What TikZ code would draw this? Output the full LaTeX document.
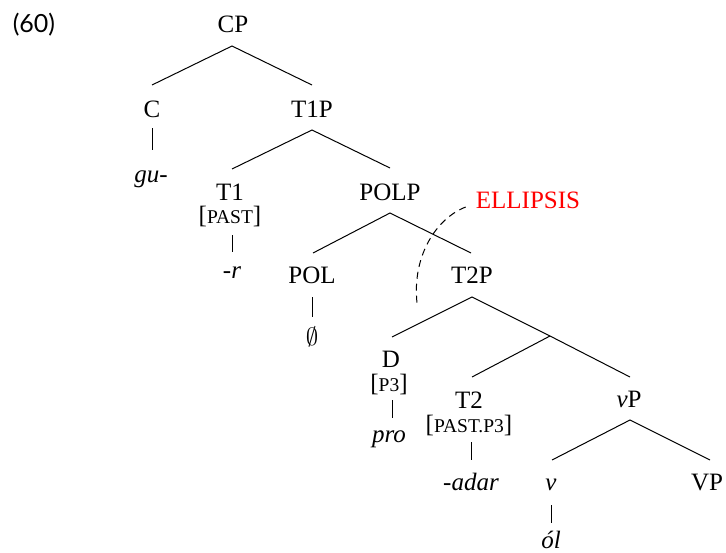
\documentclass[tikz,border=0pt]{standalone}
\usepackage{fontspec}
\setmainfont{Liberation Serif}
\newfontfamily\exfont{Lato}
\newcommand{\fsc}[1]{{\fontsize{19.5}{20}\selectfont #1}}
\begin{document}
\begin{tikzpicture}[x=1pt,y=-1pt,
  every node/.style={inner sep=0pt, anchor=base, font=\fontsize{25}{28}\selectfont},
  edge/.style={line width=1pt},
  ellline/.style={line width=1pt, dash pattern=on 7pt off 5pt}]
\useasboundingbox (0,0) rectangle (726,552);
% example number
\node[font=\exfont\fontsize{25}{28}\selectfont] (ex) at (34,32) {(60)};
% tree nodes
\node (CP) at (233,32) {CP};
\node (C) at (152,117) {C};
\node (T1P) at (312,117) {T1P};
\node (gu) at (151,182) {\textit{gu-}};
\node (T1) at (230,200) {T1};
\node (PAST) at (230,223) {[\fsc{PAST}]};
\node (r) at (232,278) {\textit{-r}};
\node (POLP) at (390,200) {POLP};
\node[text=red] (ELL) at (528,208) {ELLIPSIS};
\node (POL) at (312,283) {POL};
\node (T2P) at (472,283) {T2P};
\node[font=\fontsize{30}{32}\selectfont] (empty) at (312,345) {$\emptyset$};
\node (D) at (391,367) {D};
\node (P3) at (389,391) {[\fsc{P3}]};
\node (pro) at (389,442) {\textit{pro}};
\node (T2) at (469,408) {T2};
\node (PASTP3) at (469,432) {[\fsc{PAST.P3}]};
\node (adar) at (471,490) {\textit{-adar}};
\node (vP) at (629,407) {\textit{v}P};
\node (v) at (551,490) {\textit{v}};
\node (VP) at (707,490) {VP};
\node (ol) at (551,548) {\textit{ól}};
\coordinate (Tbar) at (550,336);
\coordinate (ellend) at (417,303);
% edges
\draw[edge] ([yshift=32pt]C.base) -- ([xshift=-1pt,yshift=-14pt]CP.base) -- ([yshift=32pt]T1P.base);
\draw[edge] ([yshift=-11pt]C.base) -- ([xshift=1pt,yshift=32pt]gu.base);
\draw[edge] ([xshift=2pt,yshift=31pt]T1.base) -- ([yshift=-13pt]T1P.base) -- ([yshift=32pt]POLP.base);
\draw[edge] ([xshift=2pt,yshift=-12pt]PAST.base) -- ([yshift=26pt]r.base);
\draw[edge] ([xshift=1pt,yshift=30pt]POL.base) -- ([yshift=-13pt]POLP.base) -- ([xshift=-1pt,yshift=30pt]T2P.base);
\draw[edge] ([yshift=-14pt]POL.base) -- ([yshift=28pt]empty.base);
\draw[edge] ([xshift=1pt,yshift=30pt]D.base) -- ([yshift=-14pt]T2P.base) -- (Tbar) -- ([xshift=1pt,yshift=30pt]vP.base);
\draw[edge] (Tbar) -- ([xshift=3pt,yshift=31pt]T2.base);
\draw[edge] ([xshift=3pt,yshift=-9pt]P3.base) -- ([xshift=3pt,yshift=24pt]pro.base);
\draw[edge] ([xshift=2pt,yshift=-10pt]PASTP3.base) -- ([yshift=30pt]adar.base);
\draw[edge] ([xshift=1pt,yshift=30pt]v.base) -- ([xshift=1pt,yshift=-13pt]vP.base) -- ([xshift=3pt,yshift=30pt]VP.base);
\draw[edge] ([yshift=-15pt]v.base) -- ([yshift=25pt]ol.base);
% ellipsis arc
\draw[ellline] ([xshift=-10pt,yshift=1pt]ELL.base west) .. controls (437,218) and (412,255) .. (ellend);
\end{tikzpicture}
\end{document}
